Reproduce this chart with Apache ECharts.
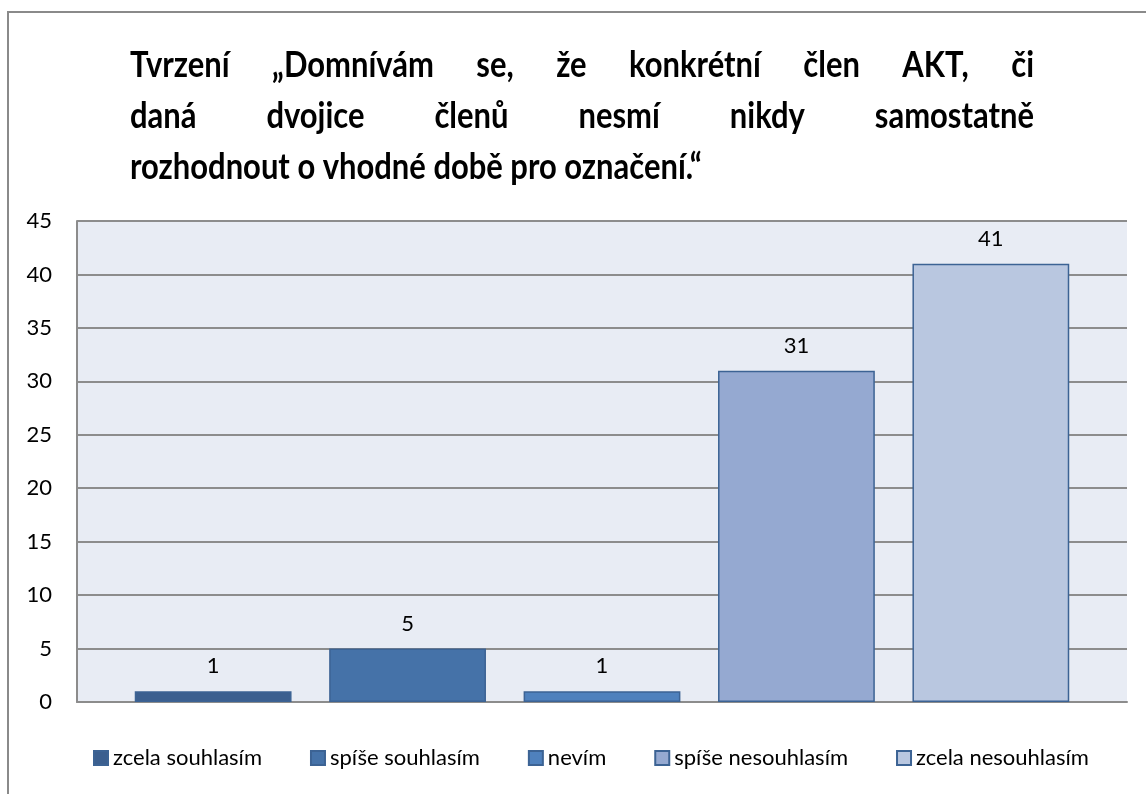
<!DOCTYPE html>
<html>
<head>
<meta charset="utf-8">
<script src="https://cdn.jsdelivr.net/npm/echarts@6/dist/echarts.min.js"></script>
<style>
  html, body { margin: 0; padding: 0; background: #fff; }
  #chart { width: 1146px; height: 794px; }
</style>
</head>
<body>
<div id="chart"></div>
<script>
// data
const seriesNames = ['zcela souhlasím', 'spíše souhlasím', 'nevím', 'spíše nesouhlasím', 'zcela nesouhlasím']
const seriesValues = [1, 5, 1, 31, 41]
const seriesColors = ['#3b5f8f', '#4572a8', '#4f81bd', '#95a9d1', '#b9c7e0']
const titleLines = [
  'Tvrzení „Domnívám se, že konkrétní člen AKT, či',
  'daná dvojice členů nesmí nikdy samostatně',
  'rozhodnout o vhodné době pro označení.“'
]

const FONT = 'Lato, "Open Sans", sans-serif'
const TITLE_FONT = 'bold 36px ' + FONT
const TITLE_SCALE_X = 0.86 // Lato is wider than the original Calibri

// measure words so the first two title lines can be justified like the original
const ctx = document.createElement('canvas').getContext('2d')
ctx.font = TITLE_FONT

function titleGraphics() {
  const left = 130, right = 1034
  const out = []
  titleLines.forEach((line, li) => {
    const y = 65 + li * 51
    const words = line.split(' ')
    const justify = li < titleLines.length - 1
    const widths = words.map(w => ctx.measureText(w).width * TITLE_SCALE_X)
    const total = widths.reduce((a, b) => a + b, 0)
    const gap = justify
      ? (right - left - total) / (words.length - 1)
      : ctx.measureText(' ').width * TITLE_SCALE_X
    let x = left
    words.forEach((w, i) => {
      out.push({
        type: 'text',
        x: x,
        y: y,
        scaleX: TITLE_SCALE_X,
        style: { text: w, font: TITLE_FONT, fill: '#000', verticalAlign: 'middle' }
      })
      x += widths[i] + gap
    })
  })
  return out
}

const chart = echarts.init(document.getElementById('chart'))

chart.setOption({
  animation: false,
  textStyle: { fontFamily: FONT },
  graphic: [
    {
      type: 'polyline',
      shape: { points: [[8, 794], [8, 12], [1146, 12]] },
      style: { stroke: '#8a8a8a', lineWidth: 2, fill: null }
    },
    ...titleGraphics()
  ],
  grid: {
    left: 77,
    top: 221,
    right: 19,
    bottom: 92,
    show: true,
    backgroundColor: '#e8ecf4',
    borderWidth: 0
  },
  legend: {
    bottom: 20,
    left: 88,
    icon: 'rect',
    itemWidth: 14,
    itemHeight: 14,
    itemGap: 48,
    textStyle: { fontSize: 22, color: '#000', fontFamily: FONT },
    data: seriesNames
  },
  xAxis: {
    type: 'category',
    data: [''],
    axisLine: { lineStyle: { color: '#8c8c8c', width: 2 } },
    axisTick: { show: false },
    axisLabel: { show: false }
  },
  yAxis: {
    type: 'value',
    min: 0,
    max: 45,
    interval: 5,
    axisLine: { show: true, lineStyle: { color: '#8c8c8c', width: 2 } },
    axisTick: { show: false },
    axisLabel: { color: '#000', fontSize: 22, margin: 25 },
    splitLine: { lineStyle: { color: '#8c8c8c', width: 2 } }
  },
  series: seriesNames.map((name, i) => ({
    name,
    type: 'bar',
    data: [seriesValues[i]],
    barGap: '24%',
    barCategoryGap: '11%',
    itemStyle: {
      color: seriesColors[i],
      borderColor: '#3c6394',
      borderWidth: 1.5
    },
    label: {
      show: true,
      position: 'top',
      distance: 14,
      color: '#000',
      fontSize: 22,
      fontFamily: FONT
    }
  }))
})

window.addEventListener('resize', () => chart.resize())
</script>
</body>
</html>
